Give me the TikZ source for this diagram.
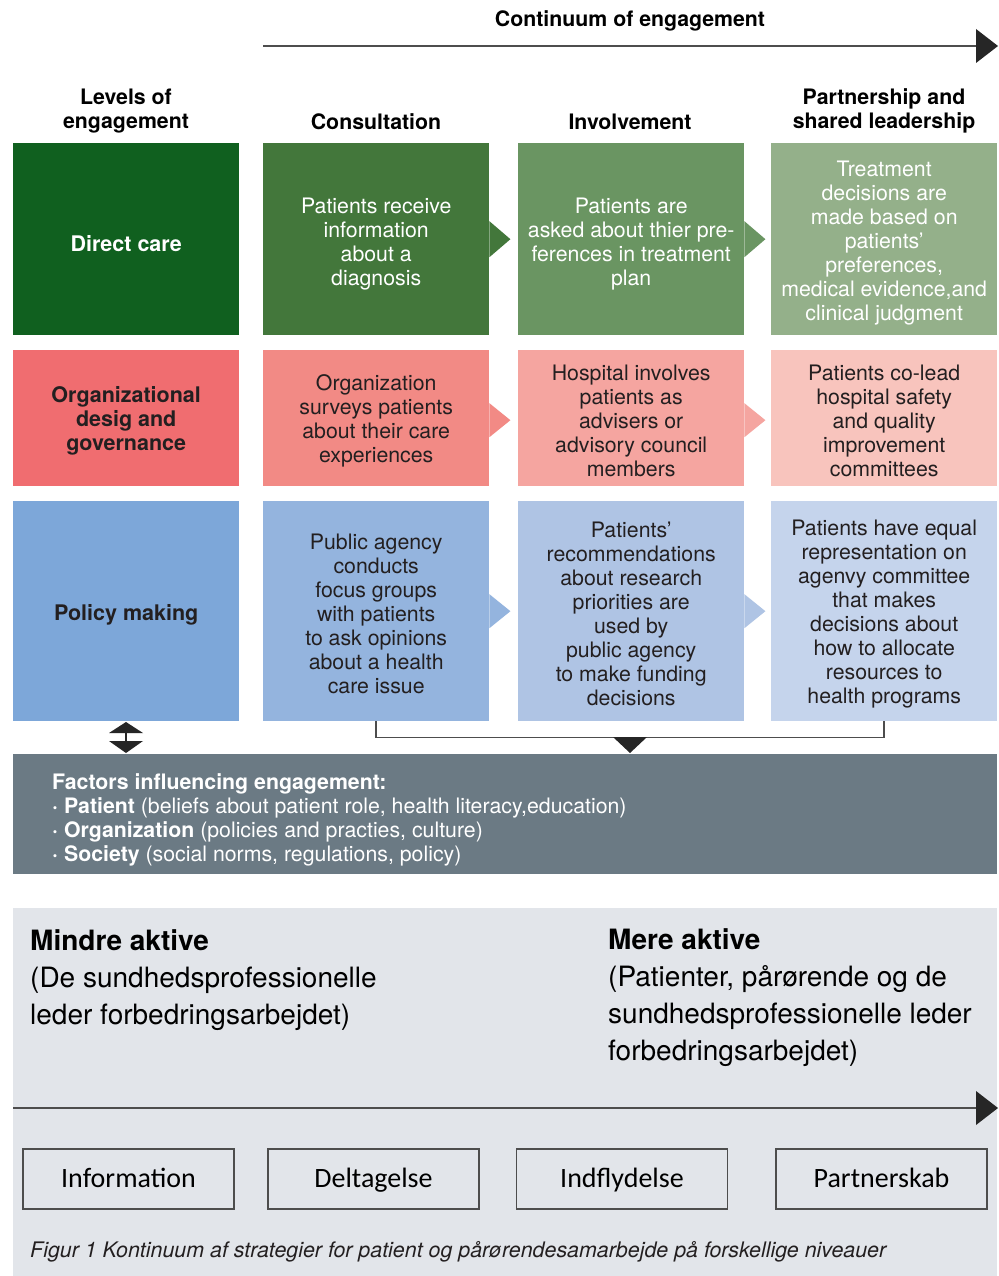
\documentclass[tikz,border=0pt]{standalone}
\usepackage{fontspec}
\setmainfont{TeX Gyre Heros}
\newfontfamily\boxfont{Carlito}
\usetikzlibrary{calc}
\definecolor{gA0}{HTML}{10601F}
\definecolor{gA1}{HTML}{43773B}
\definecolor{gA2}{HTML}{6A9562}
\definecolor{gA3}{HTML}{94B08A}
\definecolor{rB0}{HTML}{F06D70}
\definecolor{rB1}{HTML}{F28A85}
\definecolor{rB2}{HTML}{F5A5A0}
\definecolor{rB3}{HTML}{F8C4BD}
\definecolor{bC0}{HTML}{7DA7D9}
\definecolor{bC1}{HTML}{94B4DE}
\definecolor{bC2}{HTML}{AFC4E4}
\definecolor{bC3}{HTML}{C5D4EC}
\definecolor{darktext}{HTML}{231F20}
\definecolor{linegray}{HTML}{4D4D4D}
\definecolor{factorgray}{HTML}{6B7A84}
\definecolor{panelgray}{HTML}{E2E5EA}
\tikzset{
  cellbg/.style={anchor=north west, minimum width=226pt, inner sep=0pt},
  celltext/.style={inner sep=0pt, align=center, font=\fontsize{21.3}{24}\selectfont},
  labeltext/.style={inner sep=0pt, align=center, font=\fontsize{21.5}{24}\selectfont\bfseries},
  hdr/.style={align=center, inner sep=0pt, font=\fontsize{21.3}{24}\selectfont\bfseries, text=black},
  bigtext/.style={align=left, inner sep=0pt, anchor=west, text=black, font=\fontsize{28}{37}\selectfont},
  stagebox/.style={draw=linegray, line width=1.2pt, minimum width=211pt, minimum height=60pt,
    inner sep=0pt, text height=20pt, text depth=4pt, font=\boxfont\fontsize{28}{32}\selectfont},
  axis/.style={draw=linegray, line width=2pt},
  tip/.style={fill=black!85}
}
\begin{document}
\begin{tikzpicture}[x=1pt,y=-1pt]
\useasboundingbox[fill=white] (0,0) rectangle (998,1276);

% top axis
\node[hdr] (title) at (630,21) {Continuum of engagement};
\coordinate (ta0) at (263,46);
\coordinate (ta1) at (976,46);
\draw[axis] (ta0) -- (ta1);
\fill[tip] ($(ta1)+(0,-17)$) -- ($(ta1)+(22,0)$) -- ($(ta1)+(0,17)$) -- cycle;

% headers
\node[hdr] (h0) at (126,111) {Levels of\\engagement};
\node[hdr] (h1) at (376,122) {Consultation};
\node[hdr] (h2) at (630,122) {Involvement};
\node[hdr] (h3) at (884,111) {Partnership and\\shared leadership};

% row 1
\node[cellbg, fill=gA0, minimum height=192pt] (r10) at (13,143) {};
\node[cellbg, fill=gA1, minimum height=192pt] (r11) at (263,143) {};
\node[cellbg, fill=gA2, minimum height=192pt] (r12) at (518,143) {};
\node[cellbg, fill=gA3, minimum height=192pt] (r13) at (771,143) {};
\fill[gA1] ($(r11.east)+(0,-18)$) -- ($(r11.east)+(21,0)$) -- ($(r11.east)+(0,18)$) -- cycle;
\fill[gA2] ($(r12.east)+(0,-18)$) -- ($(r12.east)+(21,0)$) -- ($(r12.east)+(0,18)$) -- cycle;
\node[labeltext, text=white] (t10) at ($(r10.center)+(0,4)$) {Direct care};
\node[celltext, text=white] (t11) at ($(r11.center)+(0,5)$) {Patients receive\\information\\about a\\diagnosis};
\node[celltext, text=white] (t12) at ($(r12.center)+(0,5)$) {Patients are\\asked about thier pre-\\ferences in treatment\\plan};
\node[celltext, text=white] (t13) at ($(r13.center)+(0,4)$) {Treatment\\decisions are\\made based on\\patients’\\preferences,\\medical evidence,and\\clinical judgment};

% row 2
\node[cellbg, fill=rB0, minimum height=136pt] (r20) at (13,350) {};
\node[cellbg, fill=rB1, minimum height=136pt] (r21) at (263,350) {};
\node[cellbg, fill=rB2, minimum height=136pt] (r22) at (518,350) {};
\node[cellbg, fill=rB3, minimum height=136pt] (r23) at (771,350) {};
\fill[rB1] ($(r21.east)+(0,-15)$) -- ($(r21.east)+(21,2)$) -- ($(r21.east)+(0,19)$) -- cycle;
\fill[rB2] ($(r22.east)+(0,-15)$) -- ($(r22.east)+(21,2)$) -- ($(r22.east)+(0,19)$) -- cycle;
\node[labeltext, text=darktext] (t20) at ($(r20.center)+(0,3)$) {Organizational\\desig and\\governance};
\node[celltext, text=darktext] (t21) at ($(r21.center)+(0,3)$) {Organization\\surveys patients\\about their care\\experiences};
\node[celltext, text=darktext] (t22) at ($(r22.center)+(0,3)$) {Hospital involves\\patients as\\advisers or\\advisory council\\members};
\node[celltext, text=darktext] (t23) at ($(r23.center)+(0,3)$) {Patients co-lead\\hospital safety\\and quality\\improvement\\committees};

% row 3
\node[cellbg, fill=bC0, minimum height=220pt] (r30) at (13,501) {};
\node[cellbg, fill=bC1, minimum height=220pt] (r31) at (263,501) {};
\node[cellbg, fill=bC2, minimum height=220pt] (r32) at (518,501) {};
\node[cellbg, fill=bC3, minimum height=220pt] (r33) at (771,501) {};
\fill[bC1] ($(r31.east)+(0,-17)$) -- ($(r31.east)+(21,0)$) -- ($(r31.east)+(0,17)$) -- cycle;
\fill[bC2] ($(r32.east)+(0,-17)$) -- ($(r32.east)+(21,0)$) -- ($(r32.east)+(0,17)$) -- cycle;
\node[labeltext, text=darktext] (t30) at ($(r30.center)+(0,4)$) {Policy making};
\node[celltext, text=darktext] (t31) at ($(r31.center)+(0,3)$) {Public agency\\conducts\\focus groups\\with patients\\to ask opinions\\about a health\\care issue};
\node[celltext, text=darktext] (t32) at ($(r32.center)+(0,3)$) {Patients’\\recommendations\\about research\\priorities are\\used by\\public agency\\to make funding\\decisions};
\node[celltext, text=darktext] (t33) at ($(r33.center)+(0,3)$) {Patients have equal\\representation on\\agenvy committee\\that makes\\decisions about\\how to allocate\\resources to\\health programs};

% factors box
\node[anchor=north west, fill=factorgray, minimum width=984pt, minimum height=120pt, inner sep=0pt] (fac) at (13,754) {};
\node[anchor=west, align=left, inner sep=0pt, text=white, font=\fontsize{21.3}{24}\selectfont] (factxt) at (52,820)
  {\textbf{Factors influencing engagement:}\\
   \textbf{·} \textbf{Patient} (beliefs about patient role, health literacy,education)\\
   \textbf{·} \textbf{Organization} (policies and practies, culture)\\
   \textbf{·} \textbf{Society} (social norms, regulations, policy)};

% bracket from consultation/partnership to factors
\draw[draw=linegray, line width=1.5pt] (r31.south) -- ++(0,16) -| (r33.south);
\coordinate (bt) at (630,737);
\fill[tip] ($(bt)+(-17,0)$) -- ($(bt)+(17,0)$) -- ($(bt)+(0,16)$) -- cycle;

% double arrow between levels and factors
\coordinate (da) at (126,737);
\fill[tip] ($(da)+(-17,-4)$) -- ($(da)+(0,-15)$) -- ($(da)+(17,-4)$) -- cycle;
\fill[tip] ($(da)+(-17,4)$) -- ($(da)+(0,16)$) -- ($(da)+(17,4)$) -- cycle;
\draw[black!85, line width=1.2pt] ($(da)+(0,-4)$) -- ($(da)+(0,4)$);

% lower panel
\node[anchor=north west, fill=panelgray, minimum width=984pt, minimum height=368pt, inner sep=0pt] (panel) at (13,908) {};
\node[bigtext] (less) at (30,980) {\textbf{Mindre aktive}\\(De sundhedsprofessionelle\\leder forbedringsarbejdet)};
\node[bigtext] (more) at (608,998) {\textbf{Mere aktive}\\(Patienter, pårørende og de\\sundhedsprofessionelle leder\\forbedringsarbejdet)};

\coordinate (ba0) at (13,1108);
\coordinate (ba1) at (976,1108);
\draw[axis] (ba0) -- (ba1);
\fill[tip] ($(ba1)+(0,-17)$) -- ($(ba1)+(22,0)$) -- ($(ba1)+(0,17)$) -- cycle;

\node[stagebox] (s1) at (128.5,1179) {Information};
\node[stagebox] (s2) at (373.5,1179) {Deltagelse};
\node[stagebox] (s3) at (622,1179) {Indflydelse};
\node[stagebox] (s4) at (881.5,1179) {Partnerskab};

\node[anchor=west, inner sep=0pt, text=darktext, font=\fontsize{21.4}{24}\selectfont\itshape] (cap) at (30,1252)
  {Figur 1 Kontinuum af strategier for patient og pårørendesamarbejde på forskellige niveauer};
\end{tikzpicture}
\end{document}
